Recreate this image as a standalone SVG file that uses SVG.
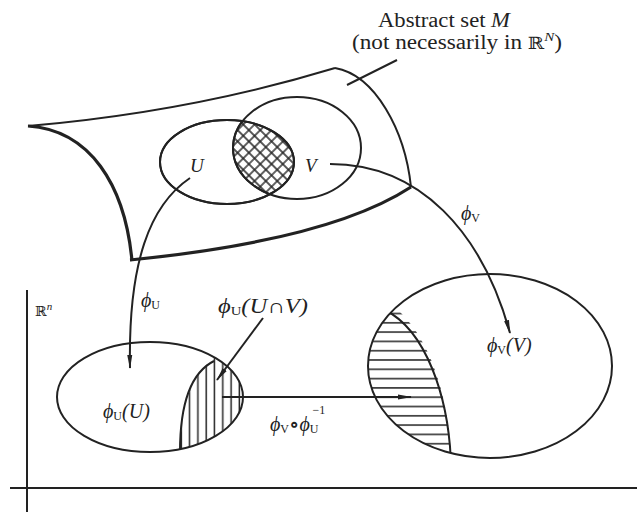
<svg xmlns="http://www.w3.org/2000/svg" width="637" height="516" viewBox="0 0 637 516">
<style>
.ln{fill:none;stroke:#222;stroke-width:2}
.th{fill:none;stroke:#222;stroke-width:3.2;stroke-linejoin:round}
.t{font-family:"Liberation Serif","DejaVu Serif",serif;fill:#222}
.i{font-style:italic}
.sb{font-style:normal;font-size:12px}
</style>
<defs>
<marker id="ah" viewBox="0 0 14 6" refX="13" refY="3" markerWidth="14" markerHeight="6" markerUnits="userSpaceOnUse" orient="auto">
<path d="M0,0.5 L14,3 L0,5.5 Z" fill="#222"/>
</marker>
<pattern id="cross" width="8" height="8" patternUnits="userSpaceOnUse" patternTransform="rotate(45)">
<path d="M0,4 H8 M4,0 V8" stroke="#222" stroke-width="1.4"/>
</pattern>
<pattern id="vert" width="8.3" height="10" patternUnits="userSpaceOnUse" x="3">
<path d="M4,0 V10" stroke="#222" stroke-width="1.5"/>
</pattern>
<pattern id="horz" width="10" height="9.3" patternUnits="userSpaceOnUse" y="2">
<path d="M0,4.6 H10" stroke="#222" stroke-width="1.5"/>
</pattern>
<clipPath id="cU"><ellipse cx="227" cy="162" rx="67" ry="42"/></clipPath>
<clipPath id="cA"><ellipse cx="150" cy="397" rx="93" ry="55"/></clipPath>
<clipPath id="cB"><ellipse cx="490" cy="366" rx="122" ry="92"/></clipPath>
</defs>

<g id="surface-M">
<path class="ln" d="M28,126 Q190,112 335,68"/>
<path class="ln" stroke-width="2.5" d="M335,68 C375,75 405,130 411,187"/>
<path class="th" d="M28,126 C90,130 125,185 132,261"/>
<path class="th" d="M130,260 Q330,240 411,187"/>
</g>

<g id="set-U">
<ellipse class="ln" cx="227" cy="162" rx="67" ry="42"/>
<text class="t i" x="190" y="172" font-size="19">U</text>
</g>

<g id="set-V">
<ellipse class="ln" cx="297" cy="148" rx="64" ry="51"/>
<text class="t i" x="305" y="172" font-size="19">V</text>
</g>

<g id="intersection-UV">
<ellipse cx="297" cy="148" rx="64" ry="51" fill="url(#cross)" stroke="none" clip-path="url(#cU)"/>
<ellipse class="ln" cx="297" cy="148" rx="64" ry="51" clip-path="url(#cU)"/>
<ellipse class="ln" cx="227" cy="162" rx="67" ry="42"/>
</g>

<g id="label-M">
<text class="t" x="378" y="27" font-size="20" textLength="132" lengthAdjust="spacingAndGlyphs">Abstract set <tspan class="i">M</tspan></text>
<text class="t" x="352" y="49" font-size="20" textLength="210" lengthAdjust="spacingAndGlyphs">(not necessarily in <tspan font-family="DejaVu Serif" font-size="17">ℝ</tspan><tspan class="i" font-size="13" dy="-8">N</tspan><tspan dy="8">)</tspan></text>
</g>

<g id="axes">
<path class="ln" d="M27,290 V512"/>
<path class="ln" d="M10,488 H637"/>
<text class="t" x="35" y="316" font-size="15"><tspan font-family="DejaVu Serif" font-size="14">ℝ</tspan><tspan class="i" font-size="11" dy="-6">n</tspan></text>
</g>

<g id="image-U">
<ellipse class="ln" cx="150" cy="397" rx="93" ry="55"/>
<path d="M180,460 C180,400 192,372 222,352 L260,352 L260,460 Z" fill="url(#vert)" clip-path="url(#cA)"/>
<path class="ln" stroke-width="2.6" d="M180,452 C180,400 192,372 214,361" clip-path="url(#cA)"/>
<text class="t i" x="103" y="418" font-size="20">ϕ<tspan class="sb" dy="2">U</tspan><tspan dy="-2">(U)</tspan></text>
</g>

<g id="image-V">
<ellipse class="ln" cx="490" cy="366" rx="122" ry="92"/>
<path d="M385,300 C425,325 450,390 451,465 L360,465 L360,300 Z" fill="url(#horz)" clip-path="url(#cB)"/>
<path class="ln" d="M385,310 C425,330 449,395 451,465" clip-path="url(#cB)"/>
<text class="t i" x="487" y="352" font-size="20">ϕ<tspan class="sb" dy="2">V</tspan><tspan dy="-2">(V)</tspan></text>
</g>

<g id="connectors">
<path class="ln" stroke-width="1.8" d="M397,60 L347,85"/>
<path class="ln" stroke-width="1.8" d="M190,178 C150,205 128,262 130,368" marker-end="url(#ah)"/>
<path class="ln" stroke-width="1.8" d="M330,164 C420,164 482,232 510,333" marker-end="url(#ah)"/>
<path class="ln" stroke-width="1.8" d="M222,397 H411" marker-end="url(#ah)"/>
<path class="ln" stroke-width="1.8" d="M263,318 L217,380" marker-end="url(#ah)"/>
<text class="t i" x="141" y="307" font-size="20">ϕ<tspan class="sb" font-size="11" dy="2">U</tspan></text>
<text class="t i" x="461" y="220" font-size="20">ϕ<tspan class="sb" font-size="11" dy="2">V</tspan></text>
<text class="t i" x="218" y="313" font-size="20" textLength="90" lengthAdjust="spacingAndGlyphs">ϕ<tspan class="sb" dy="2">U</tspan><tspan dy="-2">(U∩V)</tspan></text>
<text class="t i" x="270" y="431" font-size="20">ϕ<tspan class="sb" font-size="11" dy="2">V</tspan><tspan font-style="normal" font-weight="bold" dy="-2">∘</tspan>ϕ<tspan class="sb" font-size="11" dy="2">U</tspan><tspan font-size="12" font-style="normal" dx="-6" dy="-19">−1</tspan></text>
</g>
</svg>
